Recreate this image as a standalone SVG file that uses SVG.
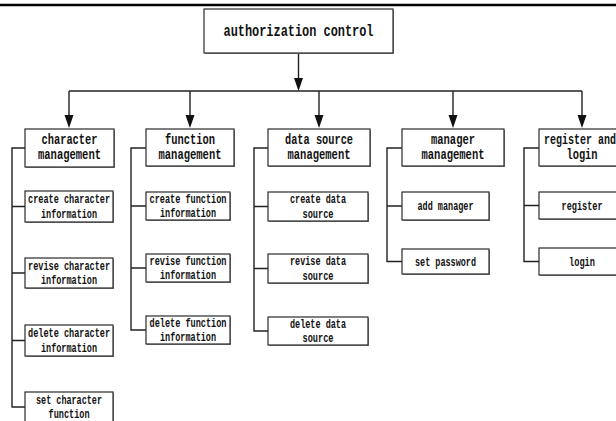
<svg xmlns="http://www.w3.org/2000/svg" width="616" height="421" viewBox="0 0 616 421">
  <style>
    .box { fill: #fff; stroke: #2a2a2a; stroke-width: 1.2; }
    .shadow { fill: #8a8a8a; }
    .wire { fill: none; stroke: #222; stroke-width: 1.4; }
    .head-tip { fill: #111; }
    text { font-family: "Liberation Mono", "DejaVu Sans Mono", monospace; fill: #111; text-anchor: middle; }
    .root { font-size: 16px; font-weight: bold; }
    .head { font-size: 14px; font-weight: bold; }
    .leaf { font-size: 12px; font-weight: bold; }
  </style>
  <rect width="616" height="421" fill="#fff"/>
  <!-- rule across the top -->
  <line x1="0" y1="5" x2="616" y2="5" stroke="#000" stroke-width="2.4"/>

  <g id="connectors">
    <line class="wire" x1="298.5" y1="53" x2="298.5" y2="80"/>
    <line class="wire" x1="69" y1="91" x2="582" y2="91"/>
    <polyline class="wire" points="69,91 69,117"/>
    <polyline class="wire" points="190,91 190,117"/>
    <polyline class="wire" points="319,91 319,117"/>
    <polyline class="wire" points="453,91 453,117"/>
    <polyline class="wire" points="582,91 582,117"/>
    <!-- arrowheads -->
    <path class="head-tip" d="M294,78 L303,78 L298.5,91 Z"/>
    <path class="head-tip" d="M64.5,115 L73.5,115 L69,128 Z M185.5,115 L194.5,115 L190,128 Z M314.5,115 L323.5,115 L319,128 Z M448.5,115 L457.5,115 L453,128 Z M577.5,115 L586.5,115 L582,128 Z"/>
    <!-- side brackets linking each group to its items -->
    <path class="wire" d="M25,148 H12 V407 H25 M12,206.5 H25 M12,273 H25 M12,340.5 H25"/>
    <path class="wire" d="M146,148 H131 V330 H146 M131,206 H146 M131,268 H146"/>
    <path class="wire" d="M268,148 H254 V331 H268 M254,206.5 H268 M254,268.5 H268"/>
    <path class="wire" d="M402,148 H387 V261.5 H402 M387,206 H402"/>
    <path class="wire" d="M539,148 H524 V261.5 H539 M524,205.5 H539"/>
  </g>

  <g id="authorization-control">
    <rect class="shadow" x="205" y="10" width="189" height="44"/>
    <rect class="box" x="204" y="9" width="189" height="44"/>
    <text class="root" x="298.5" y="36" textLength="150" lengthAdjust="spacingAndGlyphs">authorization control</text>
  </g>

  <!-- character management -->
  <g id="character-management">
    <rect class="shadow" x="26" y="130" width="89" height="38"/>
    <rect class="box" x="25" y="129" width="89" height="38"/>
    <text class="head" x="69.5" y="144" textLength="56" lengthAdjust="spacingAndGlyphs">character</text>
    <text class="head" x="69.5" y="159" textLength="63" lengthAdjust="spacingAndGlyphs">management</text>
  </g>
  <g id="create-character-information">
    <rect class="shadow" x="26" y="192" width="88" height="31"/>
    <rect class="box" x="25" y="191" width="88" height="31"/>
    <text class="leaf" x="69" y="203" textLength="82" lengthAdjust="spacingAndGlyphs">create character</text>
    <text class="leaf" x="69" y="218" textLength="56" lengthAdjust="spacingAndGlyphs">information</text>
  </g>
  <g id="revise-character-information">
    <rect class="shadow" x="26" y="259" width="88" height="30"/>
    <rect class="box" x="25" y="258" width="88" height="30"/>
    <text class="leaf" x="69" y="270" textLength="82" lengthAdjust="spacingAndGlyphs">revise character</text>
    <text class="leaf" x="69" y="284" textLength="56" lengthAdjust="spacingAndGlyphs">information</text>
  </g>
  <g id="delete-character-information">
    <rect class="shadow" x="26" y="326" width="88" height="31"/>
    <rect class="box" x="25" y="325" width="88" height="31"/>
    <text class="leaf" x="69" y="337" textLength="82" lengthAdjust="spacingAndGlyphs">delete character</text>
    <text class="leaf" x="69" y="352" textLength="56" lengthAdjust="spacingAndGlyphs">information</text>
  </g>
  <g id="set-character-function">
    <rect class="shadow" x="26" y="393" width="88" height="31"/>
    <rect class="box" x="25" y="392" width="88" height="31"/>
    <text class="leaf" x="69" y="404" textLength="66" lengthAdjust="spacingAndGlyphs">set character</text>
    <text class="leaf" x="69" y="418" textLength="41" lengthAdjust="spacingAndGlyphs">function</text>
  </g>

  <!-- function management -->
  <g id="function-management">
    <rect class="shadow" x="147" y="130" width="88" height="37"/>
    <rect class="box" x="146" y="129" width="88" height="37"/>
    <text class="head" x="190" y="144" textLength="50" lengthAdjust="spacingAndGlyphs">function</text>
    <text class="head" x="190" y="159" textLength="63" lengthAdjust="spacingAndGlyphs">management</text>
  </g>
  <g id="create-function-information">
    <rect class="shadow" x="147" y="193" width="84" height="28"/>
    <rect class="box" x="146" y="192" width="84" height="28"/>
    <text class="leaf" x="188" y="203" textLength="77" lengthAdjust="spacingAndGlyphs">create function</text>
    <text class="leaf" x="188" y="217" textLength="56" lengthAdjust="spacingAndGlyphs">information</text>
  </g>
  <g id="revise-function-information">
    <rect class="shadow" x="147" y="255" width="84" height="28"/>
    <rect class="box" x="146" y="254" width="84" height="28"/>
    <text class="leaf" x="188" y="265" textLength="77" lengthAdjust="spacingAndGlyphs">revise function</text>
    <text class="leaf" x="188" y="279" textLength="56" lengthAdjust="spacingAndGlyphs">information</text>
  </g>
  <g id="delete-function-information">
    <rect class="shadow" x="147" y="317" width="84" height="28"/>
    <rect class="box" x="146" y="316" width="84" height="28"/>
    <text class="leaf" x="188" y="327" textLength="77" lengthAdjust="spacingAndGlyphs">delete function</text>
    <text class="leaf" x="188" y="341" textLength="56" lengthAdjust="spacingAndGlyphs">information</text>
  </g>

  <!-- data source management -->
  <g id="data-source-management">
    <rect class="shadow" x="269" y="130" width="102" height="37"/>
    <rect class="box" x="268" y="129" width="102" height="37"/>
    <text class="head" x="319" y="144" textLength="68" lengthAdjust="spacingAndGlyphs">data source</text>
    <text class="head" x="319" y="159" textLength="63" lengthAdjust="spacingAndGlyphs">management</text>
  </g>
  <g id="create-data-source">
    <rect class="shadow" x="269" y="193" width="100" height="29"/>
    <rect class="box" x="268" y="192" width="100" height="29"/>
    <text class="leaf" x="318" y="203" textLength="56" lengthAdjust="spacingAndGlyphs">create data</text>
    <text class="leaf" x="318" y="218" textLength="31" lengthAdjust="spacingAndGlyphs">source</text>
  </g>
  <g id="revise-data-source">
    <rect class="shadow" x="269" y="255" width="100" height="29"/>
    <rect class="box" x="268" y="254" width="100" height="29"/>
    <text class="leaf" x="318" y="265" textLength="56" lengthAdjust="spacingAndGlyphs">revise data</text>
    <text class="leaf" x="318" y="280" textLength="31" lengthAdjust="spacingAndGlyphs">source</text>
  </g>
  <g id="delete-data-source">
    <rect class="shadow" x="269" y="318" width="100" height="28"/>
    <rect class="box" x="268" y="317" width="100" height="28"/>
    <text class="leaf" x="318" y="328" textLength="56" lengthAdjust="spacingAndGlyphs">delete data</text>
    <text class="leaf" x="318" y="342" textLength="31" lengthAdjust="spacingAndGlyphs">source</text>
  </g>

  <!-- manager management -->
  <g id="manager-management">
    <rect class="shadow" x="403" y="130" width="102" height="37"/>
    <rect class="box" x="402" y="129" width="102" height="37"/>
    <text class="head" x="453" y="144" textLength="44" lengthAdjust="spacingAndGlyphs">manager</text>
    <text class="head" x="453" y="159" textLength="63" lengthAdjust="spacingAndGlyphs">management</text>
  </g>
  <g id="add-manager">
    <rect class="shadow" x="403" y="193" width="87" height="28"/>
    <rect class="box" x="402" y="192" width="87" height="28"/>
    <text class="leaf" x="445.5" y="210" textLength="56" lengthAdjust="spacingAndGlyphs">add manager</text>
  </g>
  <g id="set-password">
    <rect class="shadow" x="403" y="250" width="87" height="25"/>
    <rect class="box" x="402" y="249" width="87" height="25"/>
    <text class="leaf" x="445.5" y="265.5" textLength="61" lengthAdjust="spacingAndGlyphs">set password</text>
  </g>

  <!-- register and login -->
  <g id="register-and-login">
    <rect class="shadow" x="540" y="130" width="86" height="37"/>
    <rect class="box" x="539" y="129" width="86" height="37"/>
    <text class="head" x="580" y="144" textLength="72" lengthAdjust="spacingAndGlyphs">register and</text>
    <text class="head" x="582" y="159" textLength="31" lengthAdjust="spacingAndGlyphs">login</text>
  </g>
  <g id="register">
    <rect class="shadow" x="540" y="193" width="86" height="27"/>
    <rect class="box" x="539" y="192" width="86" height="27"/>
    <text class="leaf" x="582" y="209.5" textLength="41" lengthAdjust="spacingAndGlyphs">register</text>
  </g>
  <g id="login">
    <rect class="shadow" x="540" y="249" width="86" height="27"/>
    <rect class="box" x="539" y="248" width="86" height="27"/>
    <text class="leaf" x="582" y="265.5" textLength="26" lengthAdjust="spacingAndGlyphs">login</text>
  </g>
</svg>
